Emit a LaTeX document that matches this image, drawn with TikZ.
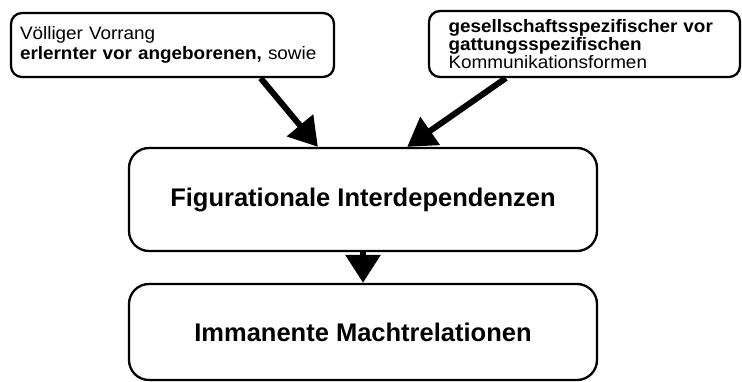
\documentclass[tikz,border=0pt]{standalone}
\usepackage{fontspec}
\setmainfont{Liberation Sans}
\newfontfamily\topfont{Liberation Sans}[FakeStretch=1.05]
\usetikzlibrary{arrows.meta, calc}

\begin{document}
\begin{tikzpicture}[x=1pt, y=-1pt,
    box/.style={draw, line width=2.3pt, rounded corners=#1},
    topbox/.style={box=11pt, align=left, inner ysep=0pt, font=\topfont\fontsize{18}{#1}\selectfont},
    mainbox/.style={box=20pt, minimum width=468pt, font=\bfseries\fontsize{25.5}{30}\selectfont},
    thickarrow/.style={line width=6pt, -{Triangle[length=28pt, width=33pt]}}]
    \useasboundingbox (0,0) rectangle (742,382);

    % Upper boxes
    \node[topbox=19.5, minimum width=323pt, minimum height=64pt, text width=305pt, inner xsep=9pt]
        (early) at (172.5,45) {Völliger Vorrang\\\textbf{erlernter vor angeborenen,} sowie};
    \node[topbox=18, minimum width=311pt, minimum height=66pt, text width=272pt, inner xsep=19.5pt]
        (social) at (584.5,44)
        {\textbf{gesellschaftsspezifischer vor}\\\textbf{gattungsspezifischen}\\Kommunikationsformen\par\vspace{6pt}};

    % Lower boxes
    \node[mainbox, minimum height=103pt] (figur) at (363,199.5) {Figurationale Interdependenzen};
    \node[mainbox, minimum height=96pt] (macht) at (363,332) {Immanente Machtrelationen};

    % Arrows
    \draw[thickarrow] ($(early.south west)!0.771!(early.south east)$)
        -- ($(figur.north west)!0.404!(figur.north east)$);
    \draw[thickarrow] ($(social.south west)!0.249!(social.south east)$)
        -- ($(figur.north west)!0.594!(figur.north east)$);
    \draw[line width=6pt, -{Triangle[length=28pt, width=34pt]}] (figur.south) -- (macht.north);
\end{tikzpicture}
\end{document}
